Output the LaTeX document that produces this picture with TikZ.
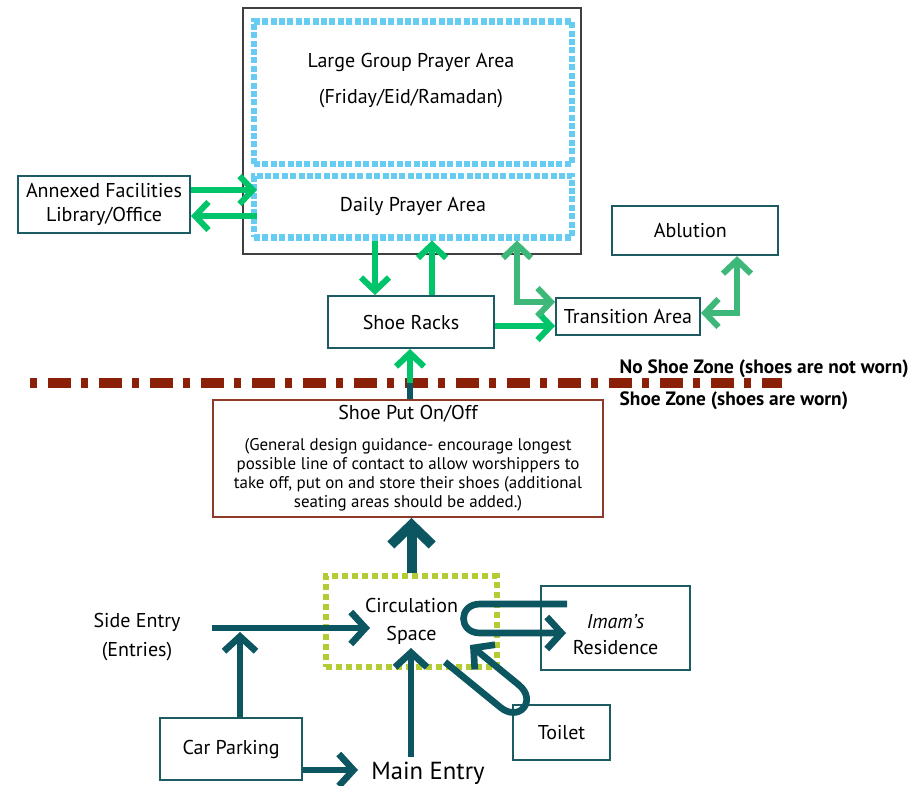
\documentclass[tikz,border=0pt]{standalone}
\usepackage{fontspec}
\setmainfont{PT Sans}
\usetikzlibrary{arrows.meta}

\definecolor{tealdark}{HTML}{0B5661}
\definecolor{boxedge}{HTML}{1D5B63}
\definecolor{brightgreen}{HTML}{00C46A}
\definecolor{midgreen}{HTML}{3DB878}
\definecolor{skyblue}{HTML}{66CCF2}
\definecolor{limeedge}{HTML}{B3CC36}
\definecolor{zonebrown}{HTML}{8B2008}
\definecolor{shoeedge}{HTML}{8E3A28}

\tikzset{
  gtip/.tip={Straight Barb[length=10pt,width=21pt,sharp]},
  ttip/.tip={Straight Barb[length=11pt,width=24pt,sharp]},
  btip/.tip={Straight Barb[length=15pt,width=31pt,sharp]}
}

\begin{document}
\begin{tikzpicture}[x=0.75pt,y=-0.75pt,
        every node/.style={font=\fontsize{15}{18}\selectfont},
        box/.style={draw=boxedge, line width=1.5pt},
        bluedot/.style={draw=skyblue, line width=5pt, dash pattern=on 4.5pt off 1.8pt},
        limedot/.style={draw=limeedge, line width=4.5pt, dash pattern=on 4.5pt off 3pt},
        garrow/.style={draw=brightgreen, line width=4.5pt, -gtip},
        mgarrow/.style={draw=midgreen, line width=4.5pt, gtip-gtip},
        tarrow/.style={draw=tealdark, line width=5pt, -ttip},
        bigarrow/.style={draw=tealdark, line width=7.5pt, -btip},
        zoneline/.style={draw=zonebrown, line width=7.5pt, dash pattern=on 5.25pt off 8.25pt on 17.25pt off 7.5pt},
        zonetxt/.style={anchor=west, font=\bfseries\fontsize{14.5}{17}\selectfont}]

        \useasboundingbox (0,0) rectangle (923,785);

        % prayer hall
        \node[draw=black!75, line width=1pt, minimum width=253.5pt, minimum height=184.5pt] (prayer) at (412,131) {};
        \node[bluedot, minimum width=238.5pt, minimum height=107pt] (large) at (413,92.5) {};
        \node[align=center] (largetxt) at (411,81) {Large Group Prayer Area\\[9pt](Friday/Eid/Ramadan)};
        \node[bluedot, minimum width=238.5pt, minimum height=46pt] (daily) at (413,206.5) {Daily Prayer Area};

        \node[box, minimum width=129pt, minimum height=43pt, align=center] (annex) at (104,204.5) {Annexed Facilities\\Library/Office};
        \node[box, minimum width=124.5pt, minimum height=39pt] (racks) at (411,322) {Shoe Racks};
        \node[box, minimum width=108pt, minimum height=28pt] (trans) at (628,316.5) {Transition Area};
        \node[box, minimum width=124.5pt, minimum height=37pt] (ablution) at (695,230.5) {\hspace*{-7pt}Ablution};

        % zone boundary
        \coordinate (zoneL) at (30,383);
        \coordinate (zoneR) at (782,383);
        \coordinate (cross) at (410,383);
        \node[zonetxt] (noshoe) at (615,369) {No Shoe Zone (shoes are not worn)};
        \node[zonetxt] (shoe) at (615,401) {Shoe Zone (shoes are worn)};

        \node[draw=shoeedge, line width=1.2pt, minimum width=292.5pt, minimum height=88pt, align=center,
              font=\fontsize{12.7}{14.3}\selectfont] (shoebox) at (408,458.5)
          {{\fontsize{15}{18}\selectfont Shoe Put On/Off}\\[9pt](General design guidance- encourage longest\\possible line of contact to allow worshippers to\\take off, put on and store their shoes (additional\\seating areas should be added.)};

        % entrance side
        \node[limedot, minimum width=128pt, minimum height=68pt, align=center] (circ) at (411.5,621.5) {Circulation\\[3pt]Space};
        \node[box, minimum width=112pt, minimum height=63pt,
              label={[name=imamtxt, align=center, yshift=-5pt]center:\textit{Imam’s}\\[1pt]Residence}] (imam) at (615.5,628) {};
        \node[box, minimum width=73pt, minimum height=41pt] (toilet) at (561.5,732.5) {Toilet};
        \node[box, minimum width=106.5pt, minimum height=46.5pt] (car) at (231,749) {Car Parking};
        \node[align=center] (side) at (137,637) {Side Entry\\[4pt](Entries)};
        \node[font=\fontsize{18.5}{22}\selectfont] (main) at (428,773) {Main Entry};

        \coordinate (a1) at (257,190);
        \coordinate (a2) at (257,216);
        \coordinate (dn) at (375,270);
        \coordinate (up) at (432,270);
        \coordinate (rt) at (494,326);
        \coordinate (dt) at (517,302);
        \coordinate (ta) at (737,313);
        \coordinate (sideout) at (212,628);
        \coordinate (sidein) at (370,628);
        \coordinate (carup) at (240,632);
        \coordinate (mainin) at (358,770);
        \coordinate (circin) at (411,648);

        \draw[zoneline] (zoneL) -- (zoneR);

        \draw[garrow] (annex.east |- a1) -- (a1);
        \draw[garrow] (a2) -- (annex.east |- a2);
        \draw[garrow] (daily.south -| dn) -- (racks.north -| dn);
        \draw[garrow] (racks.north -| up) -- (daily.south -| up);
        \draw[garrow] (racks.east |- rt) -- (trans.west |- rt);
        \draw[mgarrow] (daily.south -| dt) |- (trans.west |- dt);
        \draw[mgarrow] (trans.east |- ta) -| (ablution.south -| ta);
        \draw[draw=tealdark, line width=4.5pt] (shoebox.north -| cross) -- (cross);
        \draw[garrow] (cross) -- (racks.south -| cross);

        \draw[bigarrow] (circ.north) -- (circ.north |- shoebox.south);
        \draw[tarrow] (sideout) -- (sidein);
        \draw[tarrow] (car.north -| carup) -- (carup);
        \draw[tarrow] (car.east |- mainin) -- (mainin);
        \draw[tarrow] (main.north -| circin) -- (circin);

        % loops to imam and toilet
        \draw[tarrow] (567,604) -- (480,604) .. controls (458,604) and (458,633) .. (480,633) -- (566,633);
        \draw[tarrow] (445,662) -- (500,707) .. controls (519,723) and (538,700.5) .. (518.5,684.6) -- (470,645);

      \end{tikzpicture}
\end{document}
